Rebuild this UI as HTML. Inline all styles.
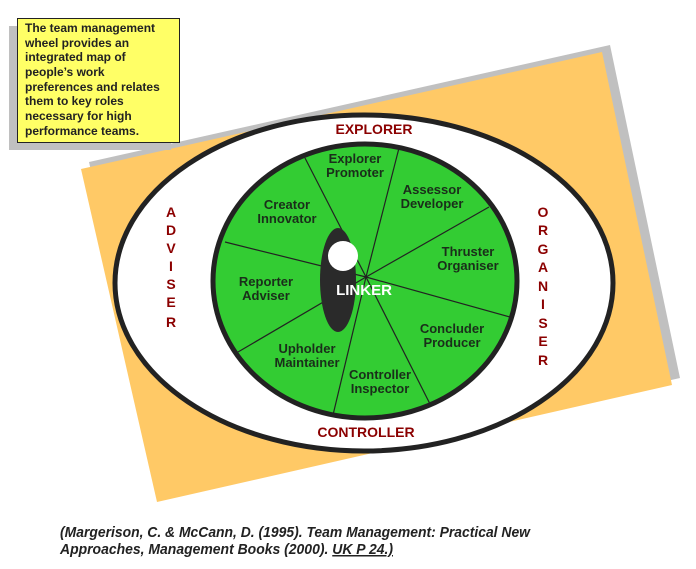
<!DOCTYPE html>
<html><head><meta charset="utf-8"><style>
html,body{margin:0;padding:0;background:#fff;width:696px;height:569px;overflow:hidden}
svg{display:block}
text{font-family:"Liberation Sans",Arial,sans-serif;font-weight:bold}
</style></head><body>
<svg width="696" height="569" viewBox="0 0 696 569" xmlns="http://www.w3.org/2000/svg">
<polygon points="89,162 610,45 680,378 165,495" fill="#c0c0c0"/>
<polygon points="81,169 602,52 672,385 157,502" fill="#ffc966"/>
<ellipse cx="364" cy="283" rx="249" ry="168" fill="#fff" stroke="#222" stroke-width="5"/>
<ellipse cx="365" cy="281" rx="152" ry="137" fill="#33cc33" stroke="#222" stroke-width="5"/>
<g stroke="#222" stroke-width="1.2">
<line x1="366" y1="277" x2="305" y2="158"/>
<line x1="366" y1="277" x2="399" y2="148"/>
<line x1="366" y1="277" x2="489" y2="207"/>
<line x1="366" y1="277" x2="510" y2="317"/>
<line x1="366" y1="277" x2="430" y2="404"/>
<line x1="366" y1="277" x2="333" y2="415"/>
<line x1="366" y1="277" x2="238" y2="352"/>
<line x1="366" y1="277" x2="225" y2="242"/>
</g>
<ellipse cx="338" cy="280" rx="18" ry="52" fill="#2a2a2a"/>
<circle cx="343" cy="256" r="15" fill="#fff"/>
<text x="364" y="295" fill="#fff" font-size="15" text-anchor="middle">LINKER</text>
<g font-size="13" fill="#1a2e1a" text-anchor="middle">
<text x="355" y="163">Explorer</text><text x="355" y="177">Promoter</text>
<text x="432" y="194">Assessor</text><text x="432" y="208">Developer</text>
<text x="468" y="256">Thruster</text><text x="468" y="270">Organiser</text>
<text x="452" y="333">Concluder</text><text x="452" y="347">Producer</text>
<text x="380" y="379">Controller</text><text x="380" y="393">Inspector</text>
<text x="307" y="353">Upholder</text><text x="307" y="367">Maintainer</text>
<text x="266" y="286">Reporter</text><text x="266" y="300">Adviser</text>
<text x="287" y="209">Creator</text><text x="287" y="223">Innovator</text>
</g>
<g font-size="14" fill="#8b0000" text-anchor="middle">
<text x="374" y="134">EXPLORER</text>
<text x="366" y="437">CONTROLLER</text>
<text x="171" y="217">A</text><text x="171" y="235">D</text><text x="171" y="253">V</text><text x="171" y="271">I</text><text x="171" y="289">S</text><text x="171" y="307">E</text><text x="171" y="327">R</text>
<text x="543" y="217">O</text><text x="543" y="235">R</text><text x="543" y="254">G</text><text x="543" y="272">A</text><text x="543" y="291">N</text><text x="543" y="309">I</text><text x="543" y="328">S</text><text x="543" y="346">E</text><text x="543" y="365">R</text>
</g>
<rect x="9" y="26" width="162" height="124" fill="#c0c0c0"/>
<rect x="17.5" y="18.5" width="162" height="124" fill="#ffff66" stroke="#222" stroke-width="1"/>
<g font-size="12" fill="#222">
<text x="25" y="32">The team management</text>
<text x="25" y="47">wheel provides an</text>
<text x="25" y="61">integrated map of</text>
<text x="25" y="76">people’s work</text>
<text x="25" y="91">preferences and relates</text>
<text x="25" y="105">them to key roles</text>
<text x="25" y="120">necessary for high</text>
<text x="25" y="135">performance teams.</text>
</g>
<g font-size="15" font-style="italic" fill="#222">
<text x="60" y="537" textLength="470" lengthAdjust="spacingAndGlyphs">(Margerison, C. &amp; McCann, D. (1995). Team Management: Practical New</text>
<text x="60" y="554" textLength="333" lengthAdjust="spacingAndGlyphs">Approaches, Management Books (2000). <tspan text-decoration="underline">UK P 24.)</tspan></text>
</g>
</svg>
</body></html>
